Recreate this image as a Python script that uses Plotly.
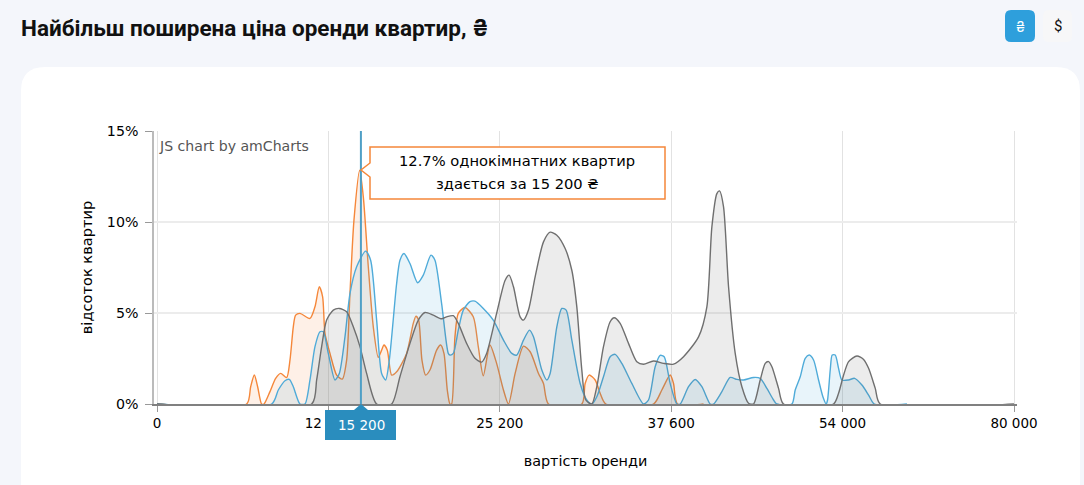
import numpy as np
import plotly.graph_objects as go

W, H = 1084, 485
tick_rents = [0, 12600, 25200, 37600, 54000, 80000]
tick_labels = ["0", "12 600", "25 200", "37 600", "54 000", "80 000"]
y_ticks = [0, 5, 10, 15]

one_room_rent = [0,6590,6885,7154,7399,7693,7865,8306,8722,9090,9530,9776,10020,10192,10510,11246,11613,11930,12176,12348,12716,13206,13622,13940,14186,14480,14900,15166,15533,15900,16268,16513,16685,16930,17248,17616,18350,18840,19036,19232,19478,19747,20066,20556,20850,21095,21340,21536,21658,21903,22148,22638,23250,23618,23986,24476,24966,25465,25827,26310,26913,27395,27998,28360,28722,31134,31375,31664,32098,32460,32870,36319,36922,37525,37823,38206,40694]
one_room_pct = [0,0,0.95,1.59,0.95,0,0,0.68,1.41,1.68,1.45,2.41,4.24,4.88,4.98,4.70,5.34,6.44,5.89,3.88,2.78,1.59,1.37,2.41,6.07,10.10,12.84,11.38,7.54,4.24,2.56,2.96,3.24,2.96,1.59,1.77,2.78,4.43,4.83,4.61,2.41,1.59,1.87,2.96,3.24,2.78,0.77,0,0,3.69,4.98,5.30,4.79,3.15,1.55,3.24,2.23,0.77,0,1.68,3.18,2.87,1.68,1.13,0,0,1.13,1.59,1.32,0.59,0,0,0.77,1.59,1.13,0,0]

two_room_rent = [0,8428,8918,9408,9727,10020,10510,10878,11246,11613,11980,12226,12593,13083,13402,13818,14186,14676,15337,15705,16146,16513,16807,17077,17616,17860,18155,18596,19159,19576,20139,20433,20923,21413,21536,21781,22148,22516,23006,23373,23986,24720,25465,26068,26430,26913,27347,27636,28239,28601,28842,29325,29686,30000,30410,31013,31495,31857,32219,32701,33184,33546,34028,34752,35596,35958,36440,36802,37092,37525,38142,38461,39259,39897,40535,41332,41651,42449,43246,43884,44522,45479,46117,46755,47393,47712,49148,49467,49945,50424,50807,51221,51700,52115,52434,52561,52816,53008,53295,53614,53933,54910,55820,56932,57944,58803,63758]
two_room_pct = [0,0,0.77,1.28,1.35,0.95,0,0,1.32,3.15,3.97,3.97,2.78,1.32,1.68,3.69,6.07,7.54,8.40,7.90,4.61,1.68,1.32,2.41,6.62,7.90,8.27,7.72,6.66,7.08,8.18,7.90,5.52,2.78,2.69,2.78,4.06,5.16,5.62,5.65,5.25,4.61,3.51,2.78,2.69,3.51,4.06,3.69,1.87,1.32,1.68,4.24,5.25,5.16,3.51,1.13,0.22,0,0.40,1.50,2.60,2.73,2.23,1.13,0,0.22,2.05,2.67,2.60,1.13,0,0,0.95,1.35,0.95,0,0,0.68,1.46,1.35,1.32,1.46,1.41,0.86,0.22,0,0,0.77,1.50,2.51,2.69,2.42,1.32,0.40,0,0.22,1.87,2.69,2.69,1.96,1.32,1.32,1.41,1.04,0.49,0,0]

three_room_rent = [0,11368,11736,12103,12470,12960,13402,13940,14430,14920,15410,16146,17248,17860,18596,19208,19698,20310,20923,21290,21781,22148,22761,23373,23863,24231,24966,25586,25875,26189,26671,26913,27274,27757,28360,28842,29325,29928,30410,30772,31134,31423,31857,32219,32701,33184,33473,33907,34510,35113,35596,36319,37044,37823,38780,40216,41013,41492,41970,42225,42608,43087,43725,44363,45001,45479,46117,46596,46915,47234,47872,48350,53135,53614,54152,54910,56174,57185,57944,58955,59713,80000]
three_room_pct = [0,0,1.32,3.15,4.61,5.16,5.25,5.07,4.24,3.15,1.68,0,0,1.50,3.33,4.61,5.03,4.88,4.68,4.79,4.85,4.43,3.33,2.51,2.30,2.78,4.98,6.80,7.08,6.44,4.79,4.61,5.16,6.99,8.91,9.44,9.27,8.54,7.35,5.34,1.87,0.22,0,0.95,3.15,4.52,4.74,4.43,3.33,2.32,2.18,2.36,2.23,2.19,2.60,3.69,5.34,9.73,11.56,11.71,10.83,6.44,2.78,0.95,0.04,0,1.32,2.23,2.33,2.05,0.86,0,0,0.59,1.59,2.33,2.64,2.45,1.96,0.86,0,0]

cursor_position_rent = 14990
title = "Найбільш поширена ціна оренди квартир, <span style=\"font-family:Inter\">₴</span>"
balloon_lines = ["12.7% однокімнатних квартир", "здається за 15 200 ₴"]
cursor_label = "15 200"

FONT = "DejaVu Sans"
ORANGE, BLUE, GREY = "#f5873a", "#4fabd9", "#6f6f6f"
def pos(r): return np.interp(r, tick_rents, range(len(tick_rents)))
def fx(x): return x / W
def fy(y): return 1 - y / H
def path(points): return "M " + " L ".join(f"{fx(x):.5f},{fy(y):.5f}" for x, y in points) + " Z"
def rounded(x0, y0, x1, y1, r):
    a, b, c, d = fx(x0), fx(x1), fy(y0), fy(y1)
    rx, ry = r / W, r / H
    return (f"M {a+rx},{c} L {b-rx},{c} Q {b},{c} {b},{c-ry} L {b},{d+ry} Q {b},{d} {b-rx},{d} "
            f"L {a+rx},{d} Q {a},{d} {a},{d+ry} L {a},{c-ry} Q {a},{c} {a+rx},{c} Z")

fig = go.Figure()
for name, xs, ys, col, fill in [
    ("1 кімната", one_room_rent, one_room_pct, ORANGE, "rgba(245,135,58,0.12)"),
    ("2 кімнати", two_room_rent, two_room_pct, BLUE, "rgba(79,171,217,0.13)"),
    ("3 кімнати", three_room_rent, three_room_pct, GREY, "rgba(90,90,90,0.115)"),
]:
    fig.add_trace(go.Scatter(x=pos(xs), y=ys, name=name, mode="lines", fill="tozeroy", fillcolor=fill,
                             line=dict(color=col, width=1.4, shape="spline", smoothing=0.7),
                             hoverinfo="skip", showlegend=False))

cx = pos(cursor_position_rent)
shapes = [
    dict(type="path", path=rounded(21, 67, 1080, 560, 24), xref="paper", yref="paper", fillcolor="white", line_width=0, layer="below"),
    dict(type="path", path=rounded(1005, 10, 1035, 42, 6), xref="paper", yref="paper", fillcolor="#2e9fdc", line_width=0, layer="below"),
    dict(type="path", path=rounded(1043, 10, 1072, 42, 6), xref="paper", yref="paper", fillcolor="#f7f7f8", line_width=0, layer="below"),
    dict(type="line", x0=cx, x1=cx, y0=0, y1=15, xref="x", yref="y", line=dict(color="#4f9fc6", width=2)),
    dict(type="path", path=path([(325, 410), (354, 410), (361, 404), (368, 410), (396, 410), (396, 440), (325, 440)]),
         xref="paper", yref="paper", fillcolor="#2a8dbe", line_width=0),
    dict(type="path", path=path([(370, 147), (665, 147), (665, 199), (370, 199), (370, 177), (361, 170), (370, 163)]),
         xref="paper", yref="paper", fillcolor="white", line=dict(color=ORANGE, width=1.5)),
]
def note(x, y, text, size=13.5, color="#000", family=FONT, anchor="center", weight=None):
    f = dict(size=size, color=color, family=family)
    if weight: f["weight"] = weight
    return dict(x=fx(x), y=fy(y), xref="paper", yref="paper", text=text, showarrow=False,
                xanchor=anchor, yanchor="middle", font=f)
annotations = [
    note(19, 27, title, size=22.5, color="#111", family="Roboto", anchor="left", weight=700),
    note(1020, 26, "₴", size=14, color="white", family="Inter"),
    note(1058, 26, "$", size=15, color="#111", family="Roboto"),
    note(157, 146, "JS chart by amCharts", size=14.1, color="#555", anchor="left"),
    note(517, 161, balloon_lines[0], size=14.7),
    note(517, 183, balloon_lines[1], size=14.7),
    note(361, 425, cursor_label, color="white"),
]
fig.update_layout(
    width=W, height=H, margin=dict(l=0, r=0, t=0, b=0), paper_bgcolor="#f4f6fb", plot_bgcolor="rgba(0,0,0,0)",
    font=dict(family=FONT, size=13.5, color="#000"), shapes=shapes, annotations=annotations,
    xaxis=dict(domain=[fx(154), fx(1017)], range=[-3 / 171.4, 5 + 3 / 171.4], tickmode="array",
               tickvals=list(range(6)), ticktext=tick_labels, ticks="outside", ticklen=6, tickcolor="#999",
               showgrid=True, gridcolor="#e2e2e2", showline=True, linecolor="#808080", linewidth=1.5, zeroline=False,
               title=dict(text="вартість оренди", standoff=26, font=dict(size=14.4)), automargin=False),
    yaxis=dict(domain=[fy(404), fy(131)], range=[0, 15], tickmode="array", tickvals=y_ticks,
               ticktext=[f"{v}%" for v in y_ticks], ticks="outside", ticklen=7, tickcolor="#999",
               tickfont=dict(size=14.2), ticklabelstandoff=4,
               showgrid=True, gridcolor="#ececec", gridwidth=1.5, showline=True, linecolor="#bbb", linewidth=1.5,
               zeroline=False, title=dict(text="відсоток квартир", standoff=11, font=dict(size=14.6)), automargin=False),
)
fig.write_html("out.html", config=dict(displayModeBar=False),
               post_script="document.body.style.margin='0';document.body.style.overflow='hidden';document.body.style.background='#f4f6fb';")
